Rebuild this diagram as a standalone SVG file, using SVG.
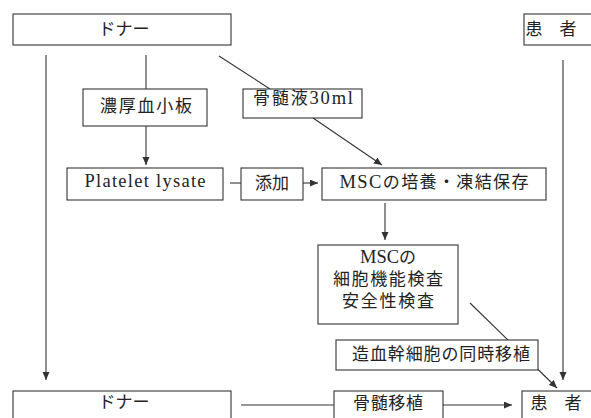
<svg xmlns="http://www.w3.org/2000/svg" width="591" height="418" viewBox="0 0 591 418">
<style>
.box{fill:#fff;stroke:#333;stroke-width:1.1}
.ln{stroke:#333;stroke-width:1.1;fill:none}
.t{font-family:"Liberation Serif","Noto Sans CJK JP",serif;font-size:17px;fill:#222;text-anchor:middle}
.lat{font-size:18.5px}
</style>
<defs>
<marker id="ah" markerUnits="userSpaceOnUse" markerWidth="9" markerHeight="8" refX="8" refY="3.5" orient="auto">
<path d="M0,0 L8,3.5 L0,7 z" fill="#333"/>
</marker>
</defs>
<rect width="591" height="418" fill="#fff"/>
<g id="connectors">
<line class="ln" x1="46" y1="55" x2="46" y2="380" marker-end="url(#ah)"/>
<line class="ln" x1="146" y1="55" x2="146" y2="89"/>
<line class="ln" x1="146" y1="126" x2="146" y2="165" marker-end="url(#ah)"/>
<line class="ln" x1="219" y1="56" x2="270" y2="89"/>
<line class="ln" x1="313" y1="118" x2="382" y2="165" marker-end="url(#ah)"/>
<line class="ln" x1="230" y1="183" x2="241" y2="183"/>
<line class="ln" x1="303" y1="183" x2="318" y2="183" marker-end="url(#ah)"/>
<line class="ln" x1="385" y1="203" x2="385" y2="240" marker-end="url(#ah)"/>
<line class="ln" x1="470" y1="303" x2="557" y2="388" marker-end="url(#ah)"/>
<line class="ln" x1="563" y1="60" x2="563" y2="380" marker-end="url(#ah)"/>
<line class="ln" x1="241" y1="405" x2="334" y2="405"/>
<line class="ln" x1="443" y1="405" x2="512" y2="405" marker-end="url(#ah)"/>
</g>
<g id="donor-top"><rect class="box" x="13" y="14" width="218" height="31"/><text class="t" x="124" y="35">ドナー</text></g>
<g id="patient-top"><rect class="box" x="524" y="14" width="90" height="31"/><text class="t" x="551" y="35" font-size="15">患　者</text></g>
<g id="platelet-conc"><rect class="box" x="83" y="89" width="124" height="37"/><text class="t" x="146" y="112" textLength="92" lengthAdjust="spacing">濃厚血小板</text></g>
<g id="marrow-30ml"><rect class="box" x="243" y="89" width="119" height="29"/><text class="t" x="303" y="104" textLength="100" lengthAdjust="spacing">骨髄液<tspan class="lat">30ml</tspan></text></g>
<g id="platelet-lysate"><rect class="box" x="67" y="168" width="156" height="32"/><text class="t lat" x="145" y="187" textLength="121" lengthAdjust="spacing">Platelet lysate</text></g>
<g id="add"><rect class="box" x="241" y="168" width="62" height="32"/><text class="t" x="272" y="189">添加</text></g>
<g id="msc-culture"><rect class="box" x="322" y="168" width="224" height="32"/><text class="t" x="434" y="188" textLength="189" lengthAdjust="spacing"><tspan class="lat">MSC</tspan>の培養・凍結保存</text></g>
<g id="msc-test"><rect class="box" x="318" y="245" width="140" height="79"/>
<text class="t" x="388" y="263"><tspan class="lat">MSC</tspan>の</text>
<text class="t" x="388" y="285" textLength="110" lengthAdjust="spacing">細胞機能検査</text>
<text class="t" x="388" y="307" textLength="92" lengthAdjust="spacing">安全性検査</text></g>
<g id="hsc-cotransplant"><rect class="box" x="336" y="340" width="202" height="30"/><text class="t" x="441" y="360" textLength="178" lengthAdjust="spacing">造血幹細胞の同時移植</text></g>
<g id="donor-bottom"><rect class="box" x="13" y="391" width="218" height="40"/><text class="t" x="124" y="408">ドナー</text></g>
<g id="bm-transplant"><rect class="box" x="334" y="391" width="109" height="40"/><text class="t" x="388" y="409" textLength="70" lengthAdjust="spacing">骨髄移植</text></g>
<g id="patient-bottom"><rect class="box" x="522" y="391" width="90" height="40"/><text class="t" x="556" y="409" font-size="15">患　者</text></g>
</svg>
